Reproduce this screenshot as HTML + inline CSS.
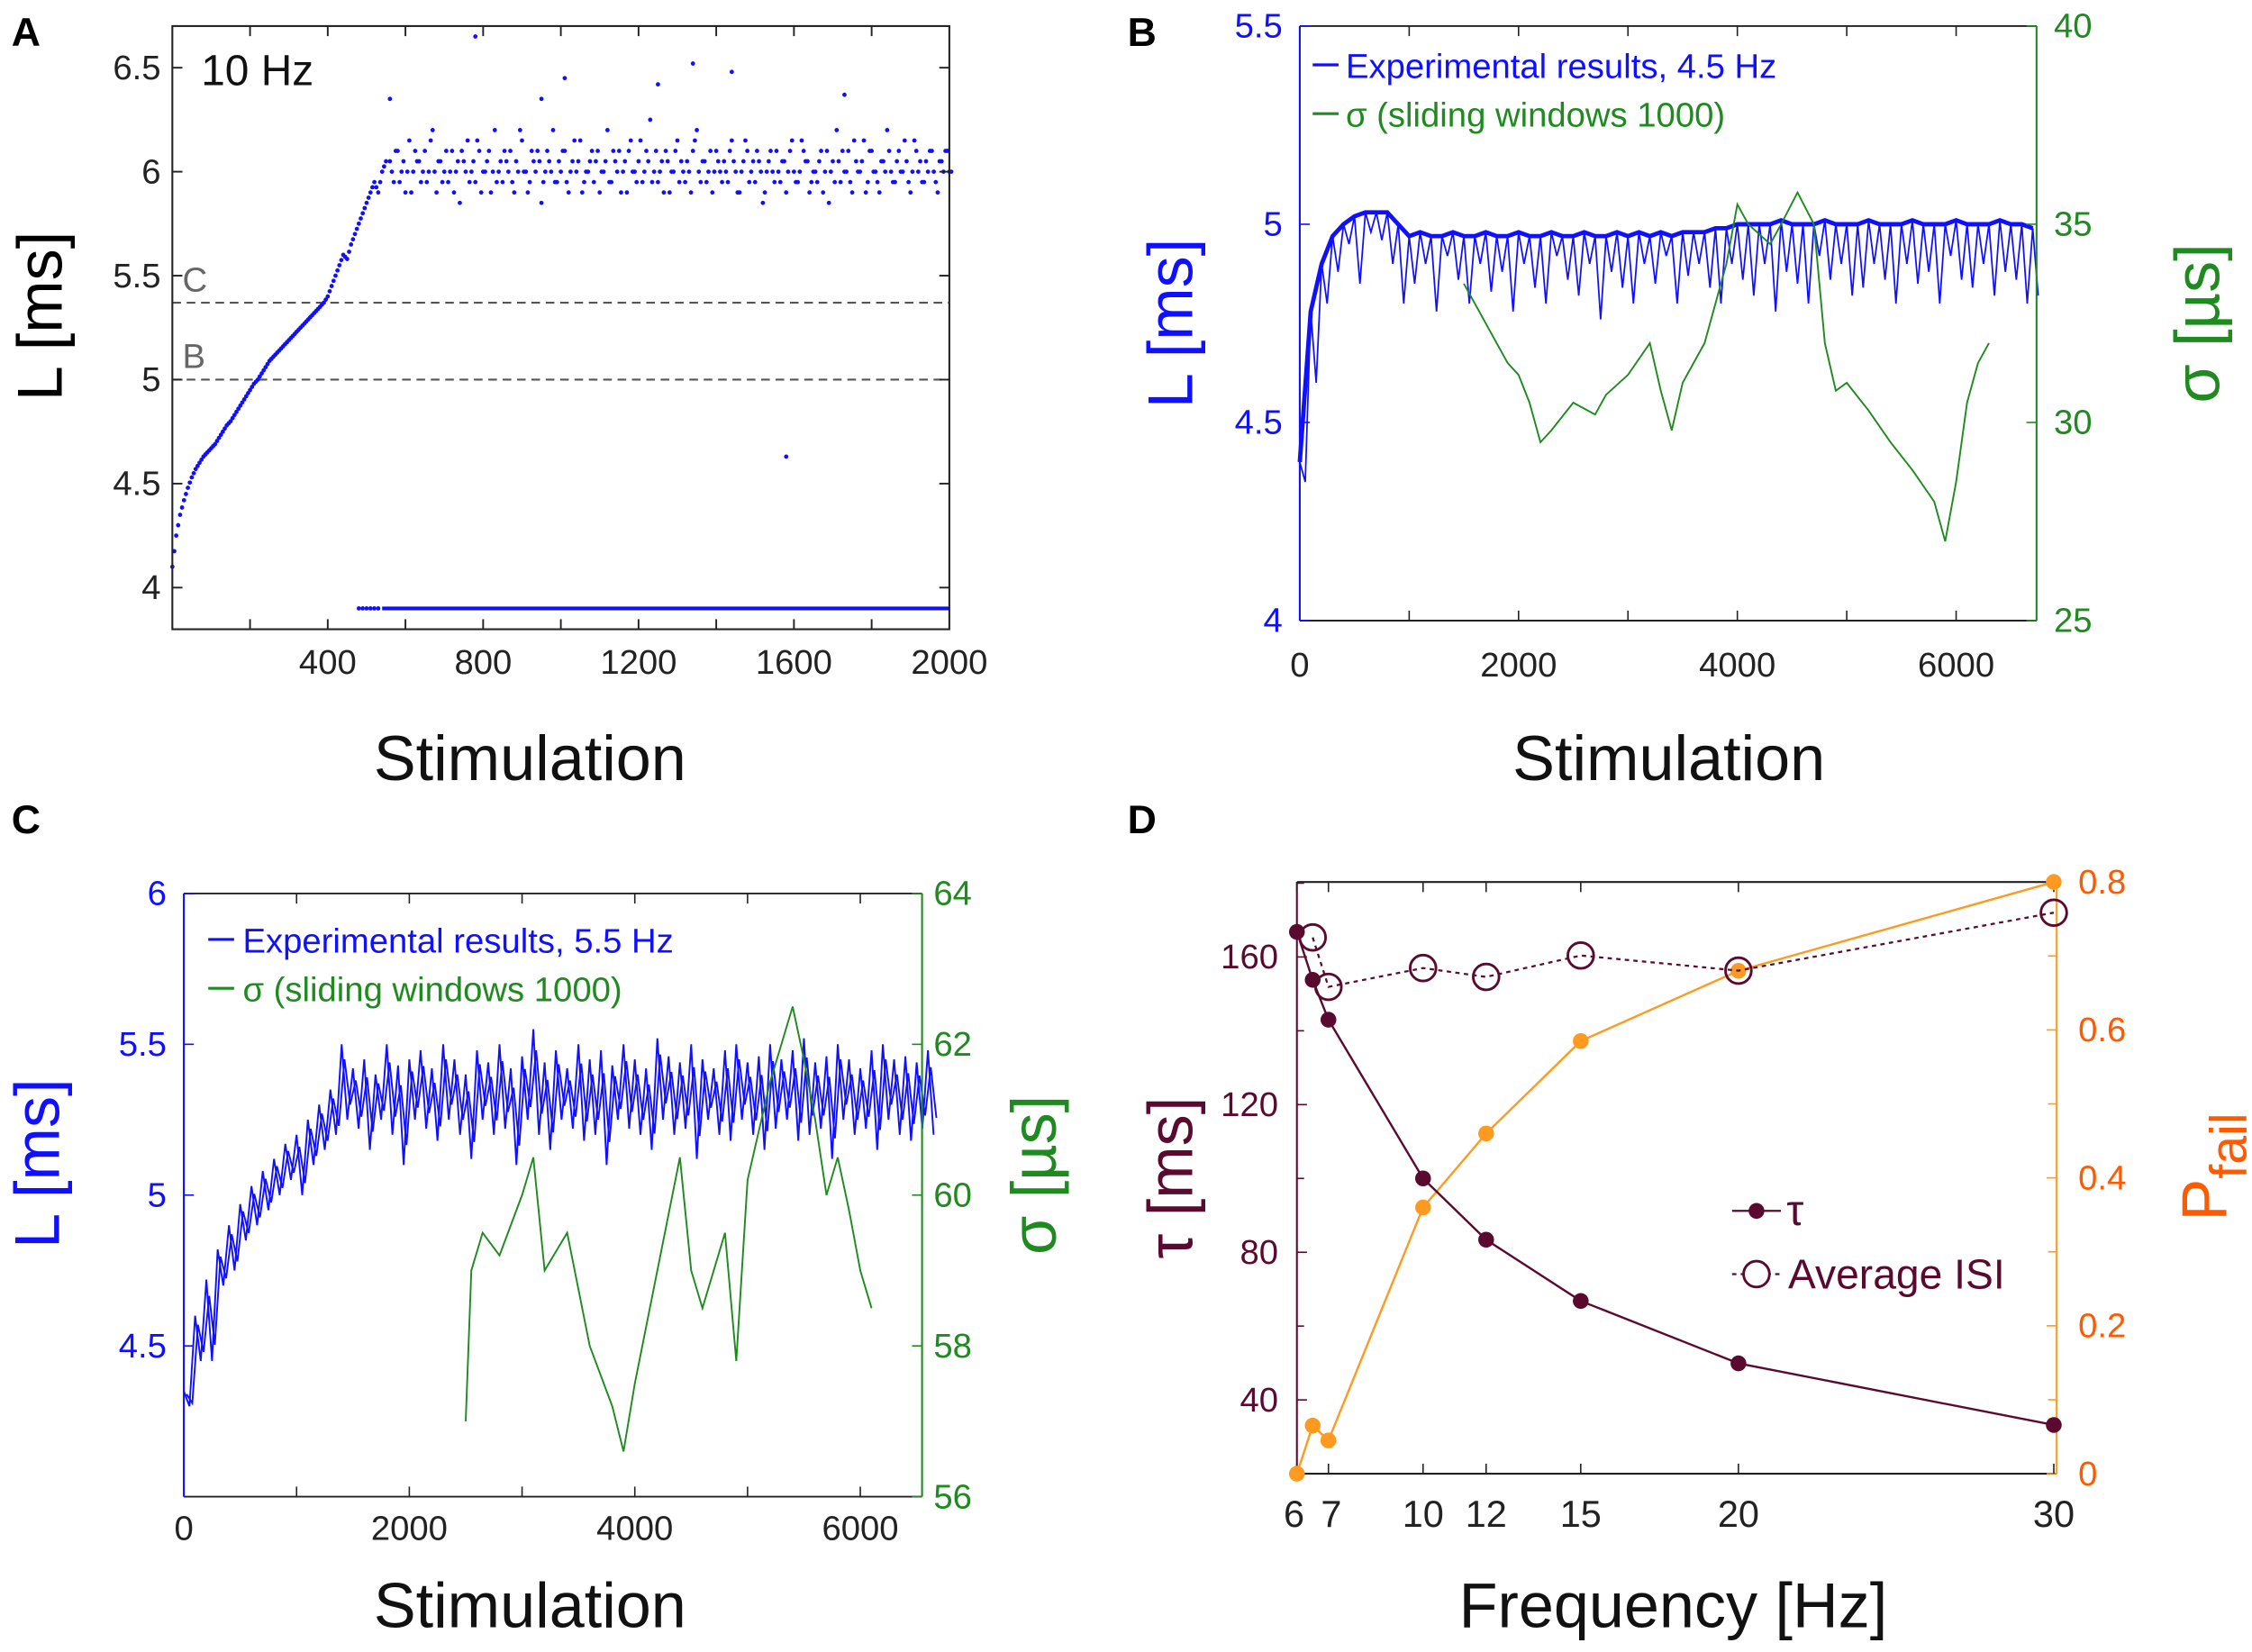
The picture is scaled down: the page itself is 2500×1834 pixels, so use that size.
<!DOCTYPE html>
<html><head><meta charset="utf-8">
<style>
html,body{margin:0;padding:0;background:#fff;}
svg{display:block;font-family:"Liberation Sans",sans-serif;}
</style></head>
<body>
<svg id="fig" width="2500" height="1834" viewBox="0 0 1568 1150" xmlns="http://www.w3.org/2000/svg">
<rect width="1568" height="1150" fill="#fff"/>
</svg>
<script>
// ---------- Panel A data ----------
const aRiseStim = [0,10,20,30,40,50,60,70,80,90,100,110,120,130,140,150,160,170,180,190,200,210,220,230,240,250,260,270,280,290,300,310,320,330,340,350,360,370,380,390,400,410,420,430,440,450,460,470,480,490,500,510,520,530,540,550];
const aRiseVal = [4.1,4.25,4.35,4.42,4.48,4.53,4.57,4.6,4.63,4.65,4.67,4.69,4.72,4.75,4.78,4.8,4.83,4.86,4.89,4.92,4.95,4.98,5.0,5.03,5.06,5.09,5.11,5.13,5.15,5.17,5.19,5.21,5.23,5.25,5.27,5.29,5.31,5.33,5.35,5.37,5.4,5.45,5.5,5.55,5.6,5.58,5.65,5.7,5.75,5.8,5.85,5.9,5.95,5.9,6.0,6.05];
const aPlateauStart = 560, aPlateauStep = 10;
const aPlateau = [6.05,5.95,6.1,6.0,5.9,6.15,6.0,6.05,5.95,6.1,6.0,6.2,5.9,6.05,6.0,5.95,6.1,6.0,5.85,6.05,6.15,6.0,5.95,6.1,6.0,6.05,5.9,6.2,6.0,5.95,6.05,6.1,5.9,6.0,6.15,6.0,5.95,6.05,6.1,5.85,6.0,6.05,6.2,5.95,6.0,6.1,5.9,6.05,6.0,6.15,5.95,6.0,6.1,6.05,5.9,6.0,6.2,5.95,6.05,6.1,6.0,5.9,6.15,6.0,6.05,5.95,6.1,6.25,6.0,5.95,6.05,6.1,5.9,6.0,6.15,6.05,5.95,6.0,6.1,6.2,5.95,6.05,6.0,5.9,6.1,6.0,6.05,5.95,6.15,6.0,5.9,6.05,6.1,6.0,5.95,6.05,5.85,6.0,6.1,5.95,6.0,6.05,5.9,6.1,6.0,5.95,6.15,6.05,5.9,6.0,5.95,6.1,6.0,5.85,6.05,6.2,5.95,6.0,6.1,5.9,6.05,6.0,6.15,5.95,6.1,6.0,5.9,6.05,6.2,6.0,5.95,6.1,6.0,6.05,5.9,6.15,6.0,5.95,6.05,6.1,6.0,5.9,6.05,6.1,6.0];
const aPlateau2 = [6.0,6.1,5.95,6.05,6.0,5.9,6.1,6.05,6.0,5.95,6.15,6.0,6.05,5.95,6.1,6.0,5.9,6.05,6.1,6.0,5.95,6.05,6.15,5.9,6.0,6.1,6.0,5.95,6.05,6.1,6.0,5.95,6.05,6.2,6.0,5.9,6.1,6.0,6.05,5.95,6.1,6.0,5.95,6.05,6.1,5.95,6.0,6.15,6.05,5.9,6.0,6.05,5.95,6.1,6.0,6.05,5.95,6.1,6.0,5.9,6.05,6.1,6.0,5.95,6.15,6.0,6.05,5.95,6.1,6.0,5.9,6.05,6.0,6.1,5.95,6.0,6.05,5.9,6.15,6.0,6.05,5.95,6.1,6.0,6.05,5.95,6.0,6.1,6.05,5.9,6.0,6.15,5.95,6.05,6.1,6.0,5.9,6.05,6.0,6.1,5.95,6.05,6.0,6.15,5.95,6.0,6.1,6.05,5.95,6.0,6.05,5.9,6.1,6.0,5.95,6.05,6.1,6.0,5.95,6.15,6.0,6.05,5.9,6.1,6.0,5.95,6.05,6.0,6.1,5.95,6.05,6.0,6.15,5.95,6.0,6.1,6.05,5.95,6.0,6.1,5.95,6.05,6.0,6.1,6.0];
const aOutStim = [560,780,950,1010,1250,1340,1440,1580,1730];
const aOutVal = [6.35,6.65,6.35,6.45,6.42,6.52,6.48,4.63,6.37];
const aFailStart = 480, aFailEnd = 2000, aFailVal = 3.9;
const aRefC = 5.37, aRefB = 5.0;
const aYTicks = [4,4.5,5,5.5,6,6.5];
const aXTicks = [400,800,1200,1600,2000];

// ---------- Panel B data (step 100 stim) ----------
const bBase = [4.4,4.78,4.9,4.97,5.0,5.02,5.03,5.03,5.03,5.0,4.97,4.98,4.97,4.97,4.98,4.97,4.97,4.98,4.97,4.97,4.98,4.97,4.97,4.98,4.97,4.97,4.98,4.97,4.97,4.98,4.97,4.98,4.97,4.98,4.97,4.98,4.98,4.98,4.99,4.99,5.0,5.0,5.0,5.0,5.01,5.0,5.0,5.0,5.01,5.0,5.0,5.0,5.01,5.0,5.0,5.0,5.01,5.0,5.0,5.0,5.01,5.0,5.0,5.0,5.01,5.0,5.0,4.99];
const bDip = [4.35,4.6,4.8,4.88,4.95,4.85,4.98,4.96,4.9,4.8,4.85,4.9,4.78,4.92,4.86,4.8,4.9,4.83,4.88,4.78,4.9,4.84,4.8,4.92,4.86,4.82,4.9,4.76,4.88,4.84,4.8,4.9,4.85,4.92,4.8,4.87,4.9,4.84,4.8,4.9,4.86,4.82,4.9,4.78,4.88,4.85,4.8,4.92,4.86,4.9,4.82,4.84,4.9,4.86,4.8,4.9,4.85,4.88,4.8,4.92,4.86,4.84,4.9,4.82,4.88,4.86,4.8,4.82];
const bSigStim = [1500,1700,1900,2000,2100,2200,2300,2500,2700,2800,3000,3200,3300,3400,3500,3700,3900,4000,4100,4300,4400,4550,4700,4800,4900,5000,5200,5400,5600,5800,5900,6000,6100,6200,6300];
const bSigVal = [33.5,32.5,31.5,31.2,30.5,29.5,29.8,30.5,30.2,30.7,31.2,32,30.8,29.8,31,32,34,35.5,35,34.5,35,35.8,35,32,30.8,31,30.3,29.5,28.8,28,27,28.5,30.5,31.5,32];
const bLTicks = [4,4.5,5,5.5];
const bSTicks = [25,30,35,40];
const bXTicks = [0,2000,4000,6000];

// ---------- Panel C data (step 100 stim) ----------
const cHi = [4.35,4.6,4.72,4.82,4.9,4.97,5.03,5.08,5.12,5.17,5.2,5.25,5.3,5.35,5.5,5.42,5.45,5.4,5.5,5.43,5.45,5.48,5.42,5.5,5.45,5.4,5.48,5.44,5.5,5.42,5.46,5.55,5.44,5.48,5.42,5.5,5.45,5.48,5.43,5.5,5.45,5.42,5.52,5.46,5.44,5.5,5.45,5.42,5.48,5.5,5.44,5.46,5.5,5.45,5.48,5.52,5.44,5.46,5.5,5.45,5.42,5.48,5.5,5.45,5.46,5.44,5.48];
const cLo = [4.3,4.45,4.45,4.7,4.75,4.85,4.9,4.95,5.0,5.05,5.0,5.1,5.15,5.2,5.25,5.22,5.15,5.25,5.2,5.1,5.25,5.22,5.18,5.25,5.2,5.12,5.25,5.2,5.22,5.1,5.25,5.2,5.15,5.25,5.22,5.18,5.2,5.1,5.25,5.22,5.2,5.15,5.25,5.2,5.22,5.12,5.25,5.2,5.18,5.25,5.2,5.15,5.22,5.25,5.18,5.2,5.22,5.12,5.25,5.2,5.22,5.15,5.25,5.2,5.18,5.22,5.2];
const cSigStim = [2500,2550,2650,2800,3000,3100,3200,3400,3600,3800,3900,4000,4200,4400,4500,4600,4800,4900,5000,5200,5300,5400,5500,5600,5700,5800,5900,6000,6100];
const cSigVal = [57,59,59.5,59.2,60,60.5,59,59.5,58,57.2,56.6,57.5,59,60.5,59,58.5,59.5,57.8,60.2,61.5,62,62.5,61.8,61,60,60.5,59.8,59,58.5];
const cLTicks = [4.5,5,5.5,6];
const cSTicks = [56,58,60,62,64];
const cXTicks = [0,2000,4000,6000];

// ---------- Panel D data ----------
const dFreqTau = [6,6.5,7,10,12,15,20,30];
const dTau = [166.8,153.8,143,100,83.4,66.8,49.9,33.2];
const dFreqIsi = [6.5,7,10,12,15,20,30];
const dIsi = [165.3,151.9,157,154.6,160.4,156.3,172];
const dFreqP = [6,6.5,7,10,12,15,20,30];
const dP = [0,0.065,0.045,0.36,0.46,0.585,0.68,0.8];
const dXTicks = [6,7,10,12,15,20,30];
const dTauTicks = [40,80,120,160];
const dPTicks = [0,0.2,0.4,0.6,0.8];

const NS = "http://www.w3.org/2000/svg";
const svg = document.getElementById('fig');
function mk(tag, parent){ const e=document.createElementNS(NS,tag); (parent||svg).appendChild(e); return e; }
function at(e, o){ for(const k in o) e.setAttribute(k,o[k]); return e; }
function txt(parent, s, x, y, size, fill, anchor, rot){
  const t = mk('text', parent); at(t,{x:x,y:y,'font-size':size,fill:fill,'text-anchor':anchor||'middle'});
  if(rot) t.setAttribute('transform','rotate(-90 '+x+' '+y+')');
  t.textContent = s; return t;
}

const BLUE='#1010ff', GREEN='#1f8a1f', MAROON='#5a0a2e', ORANGE='#ff9a20', OTXT='#ff5a00';

// ===== Panel A =====
const ax = v => 120 + v/2000*541;
const ay = v => 409 - (v-4)*144.8;
const gA = mk('g');  
let e;
e = txt(gA,'A',8,32,28,'#000','start'); e.setAttribute('font-weight','bold');  
// ref lines
[[aRefC,'C'],[aRefB,'B']].forEach(r=>{
  const l = at(mk('line',gA),{x1:120,x2:661,y1:ay(r[0]),y2:ay(r[0]),stroke:'#555','stroke-width':1.3,'stroke-dasharray':'6,4'});
  
  
  const t = txt(gA,r[1],127,ay(r[0])-8,24,'#666','start');
  
  
});
const gAd = mk('g',gA);   gAd.setAttribute('fill',BLUE);
function dotA(s,v){ at(mk('circle',gAd),{cx:ax(s),cy:ay(v),r:1.5}); }
aRiseStim.forEach((s,i)=>{ dotA(s,aRiseVal[i]); if(i<aRiseStim.length-1){ dotA(s+5,(aRiseVal[i]+aRiseVal[i+1])/2); } });
aPlateau.forEach((v,i)=>dotA(aPlateauStart+i*aPlateauStep,v));
aPlateau2.forEach((v,i)=>dotA(aPlateauStart+5+i*aPlateauStep,v));
aOutStim.forEach((s,i)=>dotA(s,aOutVal[i]));
const fl = at(mk('line',gA),{x1:ax(aFailStart+60),x2:ax(aFailEnd),y1:ay(aFailVal),y2:ay(aFailVal),stroke:BLUE,'stroke-width':2.6});
 
for(let s=aFailStart;s<aFailStart+60;s+=10) dotA(s,aFailVal);
// frame & ticks
e = at(mk('rect',gA),{x:120,y:18,width:541,height:420,fill:'none',stroke:'#222','stroke-width':1.3});
 
aYTicks.forEach(v=>{
  at(mk('line',gA),{x1:120,x2:127,y1:ay(v),y2:ay(v),stroke:'#222','stroke-width':1.2});
  at(mk('line',gA),{x1:654,x2:661,y1:ay(v),y2:ay(v),stroke:'#222','stroke-width':1.2});
  const t = txt(gA,String(v),112,ay(v)+8,24,'#222','end');  
});
for(let s=200;s<2000;s+=200){ at(mk('line',gA),{x1:ax(s),x2:ax(s),y1:438,y2:431,stroke:'#222','stroke-width':1.2}); at(mk('line',gA),{x1:ax(s),x2:ax(s),y1:18,y2:25,stroke:'#222','stroke-width':1.2}); }
aXTicks.forEach(s=>{ const t=txt(gA,String(s),ax(s),469,24,'#222');   });
e = txt(gA,'10 Hz',140,59,30,'#111','start');  
e = txt(gA,'L [ms]',43,220,44,'#000','middle',true);  
e = txt(gA,'Stimulation',369,543,44,'#111');  

// ===== Panel B =====
const bx = v => 905 + v/6000*457;
const by = v => 432 - (v-4)/1.5*414;
const bsy = s => 432 - (s-25)/15*414;
const gB = mk('g');  
e = txt(gB,'B',785,32,28,'#000','start'); e.setAttribute('font-weight','bold');  
let pts=[];
bBase.forEach((v,i)=>{ pts.push(bx(i*100)+','+by(v)); pts.push(bx(i*100+50)+','+by(bDip[i])); });
e = at(mk('polyline',gB),{points:pts.join(' '),fill:'none',stroke:BLUE,'stroke-width':1.1});
 
pts=[]; bBase.forEach((v,i)=>pts.push(bx(i*100)+','+by(v)));
e = at(mk('polyline',gB),{points:pts.join(' '),fill:'none',stroke:BLUE,'stroke-width':3});
 
pts = bSigStim.map((s,i)=>bx(s)+','+bsy(bSigVal[i]));
e = at(mk('polyline',gB),{points:pts.join(' '),fill:'none',stroke:GREEN,'stroke-width':1.2});
 
at(mk('line',gB),{x1:905,x2:1418,y1:18,y2:18,stroke:'#222','stroke-width':1.2});
at(mk('line',gB),{x1:905,x2:1418,y1:432,y2:432,stroke:'#222','stroke-width':1.2});
e = at(mk('line',gB),{x1:905,x2:905,y1:18,y2:432,stroke:BLUE,'stroke-width':1.3});  
e = at(mk('line',gB),{x1:1418,x2:1418,y1:18,y2:432,stroke:GREEN,'stroke-width':1.3});  
bLTicks.forEach(v=>{ at(mk('line',gB),{x1:905,x2:912,y1:by(v),y2:by(v),stroke:BLUE}); const t=txt(gB,String(v),893,by(v)+8,24,BLUE,'end');   });
bSTicks.forEach(v=>{ at(mk('line',gB),{x1:1411,x2:1418,y1:bsy(v),y2:bsy(v),stroke:GREEN}); const t=txt(gB,String(v),1430,bsy(v)+8,24,GREEN,'start');   });
for(let s=1000;s<=6000;s+=1000){ at(mk('line',gB),{x1:bx(s),x2:bx(s),y1:432,y2:425,stroke:'#222'}); at(mk('line',gB),{x1:bx(s),x2:bx(s),y1:18,y2:25,stroke:'#222'}); }
bXTicks.forEach(s=>{ const t=txt(gB,String(s),bx(s),471,24,'#222');   });
e = at(mk('line',gB),{x1:914,x2:932,y1:45,y2:45,stroke:BLUE,'stroke-width':2});  
e = txt(gB,'Experimental results, 4.5 Hz',937,54,24,BLUE,'start');  
e = at(mk('line',gB),{x1:914,x2:932,y1:79,y2:79,stroke:GREEN,'stroke-width':2});  
e = txt(gB,'σ (sliding windows 1000)',937,88,24,GREEN,'start');  
e = txt(gB,'L [ms]',830,225,44,BLUE,'middle',true);  
e = txt(gB,'σ [µs]',1545,225,44,GREEN,'middle',true);  
e = txt(gB,'Stimulation',1162,543,44,'#111');  

// ===== Panel C =====
const cx = v => 128 + v/6000*471;
const cy = v => 1042 - (v-4)*210;
const csy = s => 1042 - (s-56)*52.5;
const gC = mk('g');  
e = txt(gC,'C',8,580,28,'#000','start'); e.setAttribute('font-weight','bold');  
pts=[];
cHi.forEach((v,i)=>{ pts.push(cx(i*100)+','+cy(v)); pts.push(cx(i*100+50)+','+cy(cLo[i])); });
e = at(mk('polyline',gC),{points:pts.join(' '),fill:'none',stroke:BLUE,'stroke-width':1.2});
 
pts=[];
cHi.forEach((v,i)=>{ pts.push(cx(i*100+25)+','+cy(cLo[i]+(v-cLo[i])*0.8)); pts.push(cx(i*100+75)+','+cy(cLo[i]+(v-cLo[i])*0.2)); });
e = at(mk('polyline',gC),{points:pts.join(' '),fill:'none',stroke:BLUE,'stroke-width':1.2});
 
pts = cSigStim.map((s,i)=>cx(s)+','+csy(cSigVal[i]));
e = at(mk('polyline',gC),{points:pts.join(' '),fill:'none',stroke:GREEN,'stroke-width':1.2});
 
at(mk('line',gC),{x1:128,x2:642,y1:622,y2:622,stroke:'#222','stroke-width':1.2});
at(mk('line',gC),{x1:128,x2:642,y1:1042,y2:1042,stroke:'#222','stroke-width':1.2});
e = at(mk('line',gC),{x1:128,x2:128,y1:622,y2:1042,stroke:BLUE,'stroke-width':1.3});  
e = at(mk('line',gC),{x1:642,x2:642,y1:622,y2:1042,stroke:GREEN,'stroke-width':1.3});  
cLTicks.forEach(v=>{ at(mk('line',gC),{x1:128,x2:135,y1:cy(v),y2:cy(v),stroke:BLUE}); const t=txt(gC,String(v),116,cy(v)+8,24,BLUE,'end');   });
cSTicks.forEach(v=>{ at(mk('line',gC),{x1:635,x2:642,y1:csy(v),y2:csy(v),stroke:GREEN}); const t=txt(gC,String(v),650,csy(v)+8,24,GREEN,'start');   });
for(let s=1000;s<=6000;s+=1000){ at(mk('line',gC),{x1:cx(s),x2:cx(s),y1:1042,y2:1035,stroke:'#222'}); at(mk('line',gC),{x1:cx(s),x2:cx(s),y1:622,y2:629,stroke:'#222'}); }
cXTicks.forEach(s=>{ const t=txt(gC,String(s),cx(s),1072,24,'#222');   });
e = at(mk('line',gC),{x1:145,x2:163,y1:654,y2:654,stroke:BLUE,'stroke-width':2});  
e = txt(gC,'Experimental results, 5.5 Hz',169,663,24,BLUE,'start');  
e = at(mk('line',gC),{x1:145,x2:163,y1:688,y2:688,stroke:GREEN,'stroke-width':2});  
e = txt(gC,'σ (sliding windows 1000)',169,697,24,GREEN,'start');  
e = txt(gC,'L [ms]',41,810,44,BLUE,'middle',true);  
e = txt(gC,'σ [µs]',735,818,44,GREEN,'middle',true);  
e = txt(gC,'Stimulation',369,1133,44,'#111');  

// ===== Panel D =====
const dx = f => 903 + (f-6)/24*527;
const dty = t => 1026 - (t-20)*2.57;
const dpy = p => 1026 - p*515;
const gD = mk('g');  
e = txt(gD,'D',785,580,28,'#000','start'); e.setAttribute('font-weight','bold');  
at(mk('line',gD),{x1:903,x2:1432,y1:614,y2:614,stroke:'#222','stroke-width':1.3});
at(mk('line',gD),{x1:903,x2:1432,y1:1026,y2:1026,stroke:'#222','stroke-width':1.3});
e = at(mk('line',gD),{x1:903,x2:903,y1:614,y2:1026,stroke:MAROON,'stroke-width':1.3});  
e = at(mk('line',gD),{x1:1432,x2:1432,y1:614,y2:1026,stroke:ORANGE,'stroke-width':1.3});  
dTauTicks.forEach(v=>{ at(mk('line',gD),{x1:903,x2:910,y1:dty(v),y2:dty(v),stroke:MAROON}); const t=txt(gD,String(v),890,dty(v)+8,24,MAROON,'end');   });
for(let v=20;v<=180;v+=20){ if(v%40) at(mk('line',gD),{x1:903,x2:908,y1:dty(v),y2:dty(v),stroke:MAROON}); }
dPTicks.forEach(v=>{ at(mk('line',gD),{x1:1425,x2:1432,y1:dpy(v),y2:dpy(v),stroke:ORANGE}); const t=txt(gD,String(v),1447,dpy(v)+8,24,OTXT,'start');   });
for(let v=0.1;v<0.8;v+=0.2){ at(mk('line',gD),{x1:1426,x2:1432,y1:dpy(v),y2:dpy(v),stroke:ORANGE}); }
dXTicks.forEach(f=>{ at(mk('line',gD),{x1:dx(f),x2:dx(f),y1:1026,y2:1019,stroke:'#222'}); at(mk('line',gD),{x1:dx(f),x2:dx(f),y1:614,y2:621,stroke:'#222'}); const t=txt(gD,String(f),dx(f)+(f===6?-2:f===7?2:0),1063,26,'#222');   });
// P fail
pts = dFreqP.map((f,i)=>dx(f)+','+dpy(dP[i]));
e = at(mk('polyline',gD),{points:pts.join(' '),fill:'none',stroke:ORANGE,'stroke-width':1.5});  
dFreqP.forEach((f,i)=>{ const c=at(mk('circle',gD),{cx:dx(f),cy:dpy(dP[i]),r:5.5,fill:ORANGE});   });
// ISI
pts = dFreqIsi.map((f,i)=>dx(f)+','+dty(dIsi[i]));
e = at(mk('polyline',gD),{points:pts.join(' '),fill:'none',stroke:MAROON,'stroke-width':1.4,'stroke-dasharray':'3,3'});  
dFreqIsi.forEach((f,i)=>{ const c=at(mk('circle',gD),{cx:dx(f),cy:dty(dIsi[i]),r:9,fill:'none',stroke:MAROON,'stroke-width':1.8});   });
// tau
pts = dFreqTau.map((f,i)=>dx(f)+','+dty(dTau[i]));
e = at(mk('polyline',gD),{points:pts.join(' '),fill:'none',stroke:MAROON,'stroke-width':1.5});  
dFreqTau.forEach((f,i)=>{ const c=at(mk('circle',gD),{cx:dx(f),cy:dty(dTau[i]),r:5.5,fill:MAROON});   });
// legend
at(mk('line',gD),{x1:1206,x2:1240,y1:843,y2:843,stroke:MAROON,'stroke-width':1.4});
e = at(mk('circle',gD),{cx:1223,cy:843,r:5.5,fill:MAROON});  
e = txt(gD,'τ',1244,853,30,MAROON,'start');  
at(mk('line',gD),{x1:1206,x2:1240,y1:887,y2:887,stroke:MAROON,'stroke-width':1.4,'stroke-dasharray':'3,3'});
e = at(mk('circle',gD),{cx:1223,cy:887,r:9,fill:'#fff',stroke:MAROON,'stroke-width':1.8});  
e = txt(gD,'Average ISI',1245,897,29,MAROON,'start');  
e = txt(gD,'τ [ms]',830,820,44,MAROON,'middle',true);  
const pt = txt(gD,'P',1550,850,44,OTXT,'start',true);
 
const sub = mk('tspan',pt); at(sub,{'font-size':36,dy:14}); sub.textContent='fail';
e = txt(gD,'Frequency [Hz]',1165,1133,44,'#111');  
</script>
</body></html>
